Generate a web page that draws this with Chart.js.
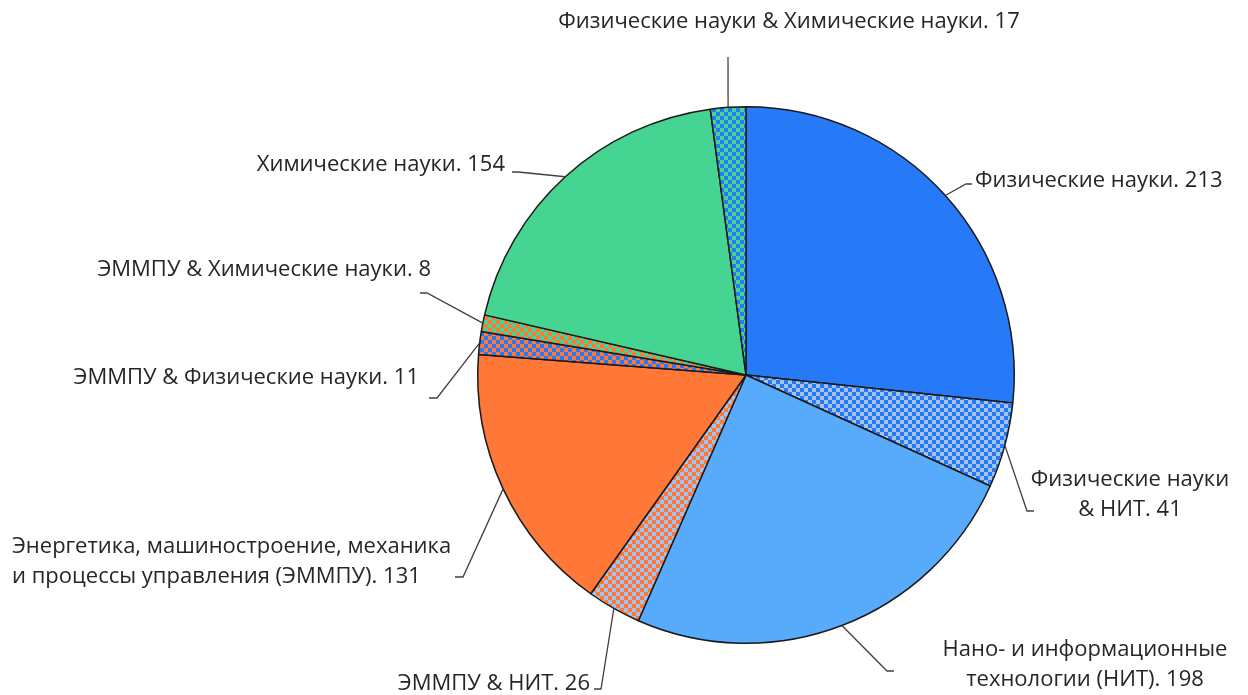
<!DOCTYPE html>
<html><head><meta charset="utf-8">
<script src="https://cdn.jsdelivr.net/npm/chart.js@4"></script>
<style>html,body{margin:0;padding:0;background:#fff;}#wrap{width:1248px;height:695px;}</style>
</head><body><div id="wrap"><canvas id="c" width="1248" height="695"></canvas></div>
<script>
const categories = [
  "Физические науки",
  "Физические науки & НИТ",
  "Нано- и информационные технологии (НИТ)",
  "ЭММПУ & НИТ",
  "Энергетика, машиностроение, механика и процессы управления (ЭММПУ)",
  "ЭММПУ & Физические науки",
  "ЭММПУ & Химические науки",
  "Химические науки",
  "Физические науки & Химические науки"
];
const values = [213, 41, 198, 26, 131, 11, 8, 154, 17];
const labelLines = [
  ["Физические науки. 213"],
  ["Физические науки", "& НИТ. 41"],
  ["Нано- и информационные", "технологии (НИТ). 198"],
  ["ЭММПУ & НИТ. 26"],
  ["Энергетика, машиностроение, механика", "и процессы управления (ЭММПУ). 131"],
  ["ЭММПУ & Физические науки. 11"],
  ["ЭММПУ & Химические науки. 8"],
  ["Химические науки. 154"],
  ["Физические науки & Химические науки. 17"]
];

// styling / layout (not data)
const BLUE = '#2679F7', LBLUE = '#58AAFA', ORANGE = '#FF7838', GREEN = '#45D492', GREYBLUE = '#A3C3EC';
function checker(a, b) {
  const p = document.createElement('canvas');
  p.width = 8; p.height = 8;
  const g = p.getContext('2d');
  g.fillStyle = a; g.fillRect(0, 0, 8, 8);
  g.fillStyle = b; g.fillRect(0, 0, 4, 4); g.fillRect(4, 4, 4, 4);
  return g.createPattern(p, 'repeat');
}
const fills = [
  BLUE,
  checker(BLUE, GREYBLUE),
  LBLUE,
  checker(ORANGE, GREYBLUE),
  ORANGE,
  checker(BLUE, ORANGE),
  checker(GREEN, ORANGE),
  GREEN,
  checker(BLUE, GREEN)
];
// leader elbow, leader end, text anchor x, first line y, alignment
const labelLayout = [
  {elbow:[966,184], end:[972,184], x:975, y:181, align:'left'},
  {elbow:[1027,511], end:[1034,511], x:1130, y:480, align:'center'},
  {elbow:[887,671], end:[894,671], x:1085, y:650, align:'center'},
  {elbow:[601,689], end:[594,689], x:590, y:684, align:'right'},
  {elbow:[463,577], end:[455,577], x:12, y:547, align:'left'},
  {elbow:[437,398], end:[429,398], x:419, y:378, align:'right'},
  {elbow:[427,293], end:[420,293], x:431, y:270, align:'right'},
  {elbow:[518,172], end:[512,172], x:505, y:165, align:'right'},
  {elbow:[728,57], end:[728,57], x:789, y:22, align:'center'}
];

const labelPlugin = {
  id: 'leaderLabels',
  afterDraw(chart) {
    const ctx = chart.ctx;
    const meta = chart.getDatasetMeta(0);
    ctx.save();
    meta.data.forEach((arc, i) => {
      const L = labelLayout[i];
      const mid = (arc.startAngle + arc.endAngle) / 2;
      const sx = arc.x + Math.cos(mid) * arc.outerRadius;
      const sy = arc.y + Math.sin(mid) * arc.outerRadius;
      ctx.beginPath();
      ctx.strokeStyle = '#404040';
      ctx.lineWidth = 1.3;
      ctx.moveTo(sx, sy);
      ctx.lineTo(L.elbow[0], L.elbow[1]);
      ctx.lineTo(L.end[0], L.end[1]);
      ctx.stroke();
      ctx.fillStyle = '#262626';
      ctx.font = '22px "Open Sans"';
      ctx.textAlign = L.align;
      ctx.textBaseline = 'middle';
      labelLines[i].forEach((t, k) => ctx.fillText(t, L.x, L.y + k * 30));
    });
    ctx.restore();
  }
};

new Chart(document.getElementById('c'), {
  type: 'pie',
  data: {
    labels: categories,
    datasets: [{
      data: values,
      backgroundColor: fills,
      borderColor: '#1a1a1a',
      borderWidth: 1.5,
      borderAlign: 'center'
    }]
  },
  options: {
    responsive: false,
    animation: false,
    events: [],
    layout: { padding: { left: 477, right: 233, top: 105, bottom: 50 } },
    plugins: { legend: { display: false }, tooltip: { enabled: false } }
  },
  plugins: [labelPlugin]
});
</script>
</body></html>
